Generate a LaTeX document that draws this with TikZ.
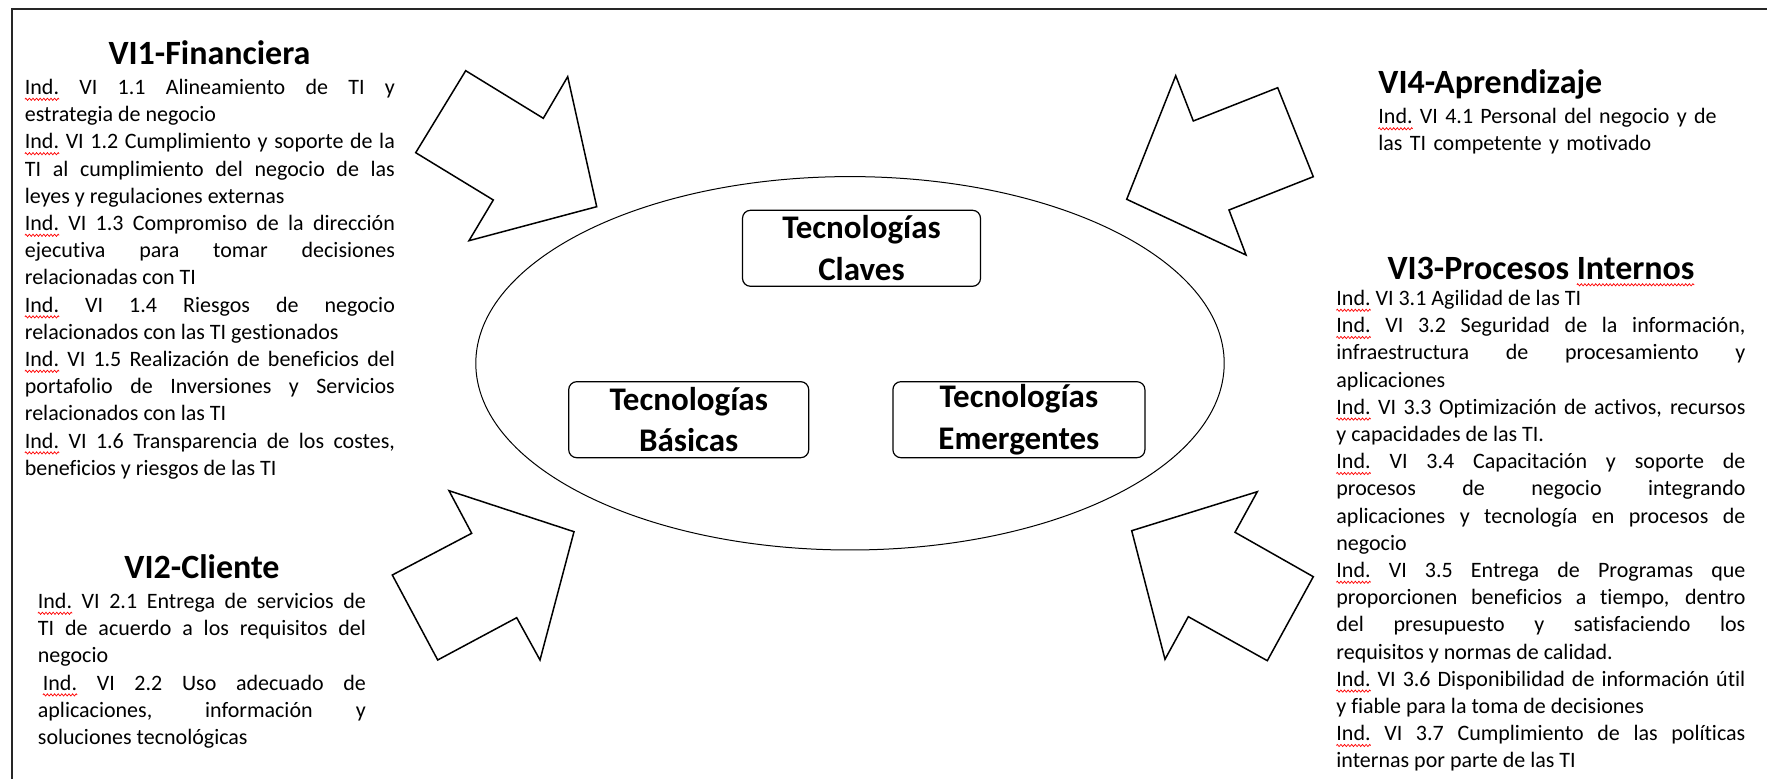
\documentclass[tikz,border=0pt]{standalone}
\usepackage{fontspec}
\setmainfont{Carlito}[Ligatures={NoCommon,NoRequired,NoContextual}]
\usepackage{tikz}
\usetikzlibrary{positioning, decorations.pathmorphing}

\newsavebox{\wavebox}
\newlength{\wavelen}
\newcommand{\spellwave}[1]{\sbox{\wavebox}{#1}\setlength{\wavelen}{\wd\wavebox}\usebox{\wavebox}%
  \tikz[overlay, baseline=0pt]\draw[red, line width=0.35pt, decorate, decoration={zigzag, amplitude=0.55pt, segment length=1.8pt}] (-\wavelen,-2.4pt) -- (0pt,-2.4pt);}
\newcommand{\indic}{\spellwave{Ind.}}
\tolerance=10000 \hbadness=10000 \hyphenpenalty=10000

\begin{document}
\begin{tikzpicture}[x=0.5pt, y=-0.5pt]
        % Define styles
        \tikzstyle{titulo} = [font=\fontsize{17}{20}\selectfont\bfseries, inner sep=0pt, anchor=base]
        \tikzstyle{texto} = [font=\fontsize{11}{13.6}\selectfont, inner sep=0pt, anchor=base west, align=justify]
        \tikzstyle{caja} = [draw, line width=0.6pt, rounded corners=4pt, inner sep=0pt, minimum height=38pt, align=center, font=\fontsize{16.5}{20.8}\selectfont\bfseries]
        \tikzstyle{flecha} = [draw, line width=0.75pt, line join=miter]

        \useasboundingbox (0,0) rectangle (1767,779);
        % Frame
        \draw[line width=1pt, black!85] (1767,9.3) -- (12,9.3) -- (12,779);

        % Ellipse
        \coordinate (centro) at (850,363.3);
        \draw[line width=0.5pt] (centro) ellipse [x radius=187.1pt, y radius=93.35pt];

        % Nodes
        \node[caja, minimum width=119pt] (claves) at (861.5,248.3) {Tecnologías\\Claves};
        \node[caja, minimum width=120pt] (basicas) at (688.7,419.7) {Tecnologías\\Básicas};
        \node[caja, minimum width=126pt, right=41.5pt of basicas] (emergentes) {Tecnologías\\Emergentes};

        % Texts
        \node[titulo] (t1) at (209.5,65) {VI1-Financiera};
        \node[texto, text width=185pt] (b1) at (24.5,94.5) {%
          \indic{} VI 1.1 Alineamiento de TI y\linebreak estrategia de negocio\par
          \indic{} VI 1.2 Cumplimiento y soporte de la\linebreak TI al cumplimiento del negocio de las\linebreak leyes y regulaciones externas\par
          \indic{} VI 1.3 Compromiso de la dirección\linebreak ejecutiva para tomar decisiones\linebreak relacionadas con TI\par
          \indic{} VI 1.4 Riesgos de negocio\linebreak relacionados con las TI gestionados\par
          \indic{} VI 1.5 Realización de beneficios del\linebreak portafolio de Inversiones y Servicios\linebreak relacionados con las TI\par
          \indic{} VI 1.6 Transparencia de los costes,\linebreak beneficios y riesgos de las TI};

        \node[titulo] (t2) at (202,579) {VI2-Cliente};
        \node[texto, text width=164pt] (b2) at (37.5,608.5) {%
          \indic{} VI 2.1 Entrega de servicios de\linebreak TI de acuerdo a los requisitos del\linebreak negocio\par
          \hspace*{2.5pt}\indic{} VI 2.2 Uso adecuado de\linebreak aplicaciones, información y\linebreak soluciones tecnológicas};

        \node[titulo, anchor=base west] (t4) at (1378,93.5) {VI4-Aprendizaje};
        \node[texto, align=left, text width=180pt, font=\fontsize{11}{13.2}\selectfont] (b4) at (1378,124) {%
          \indic{} VI 4.1 Personal del negocio y de\\las TI competente y motivado};

        \node[titulo] (t3) at (1541,280) {VI3-Procesos \spellwave{Internos}};
        \node[texto, text width=204.5pt] (b3) at (1336,305.5) {%
          \indic{} VI 3.1 Agilidad de las TI\par
          \indic{} VI 3.2 Seguridad de la información,\linebreak infraestructura de procesamiento y\linebreak aplicaciones\par
          \indic{} VI 3.3 Optimización de activos, recursos\linebreak y capacidades de las TI.\par
          \indic{} VI 3.4 Capacitación y soporte de\linebreak procesos de negocio integrando\linebreak aplicaciones y tecnología en procesos de\linebreak negocio\par
          \indic{} VI 3.5 Entrega de Programas que\linebreak proporcionen beneficios a tiempo, dentro\linebreak del presupuesto y satisfaciendo los\linebreak requisitos y normas de calidad.\par
          \indic{} VI 3.6 Disponibilidad de información útil\linebreak y fiable para la toma de decisiones\par
          \indic{} VI 3.7 Cumplimiento de las políticas\linebreak internas por parte de las TI};

        % Arrows
        \draw[flecha] (465.7,70.7) -- (543.3,118.3) -- (567.7,76.7) -- (596.7,206.7) -- (469,240.7) -- (493.3,200) -- (415.7,152.7) -- cycle;
        \draw[flecha] (1175.7,75.7) -- (1193.3,121) -- (1277.7,87.7) -- (1313.3,176.7) -- (1229,210) -- (1246,255) -- (1126.7,199.3) -- cycle;
        \draw[flecha] (449,490.7) -- (471.7,533.3) -- (392.3,575) -- (437.7,660) -- (516.7,617.7) -- (540,660) -- (574,531.7) -- cycle;
        \draw[flecha] (1257.3,491.7) -- (1235,532.3) -- (1313.3,576.7) -- (1267.3,660.7) -- (1188.3,616.7) -- (1165,659.3) -- (1131.7,530.7) -- cycle;
\end{tikzpicture}
\end{document}
